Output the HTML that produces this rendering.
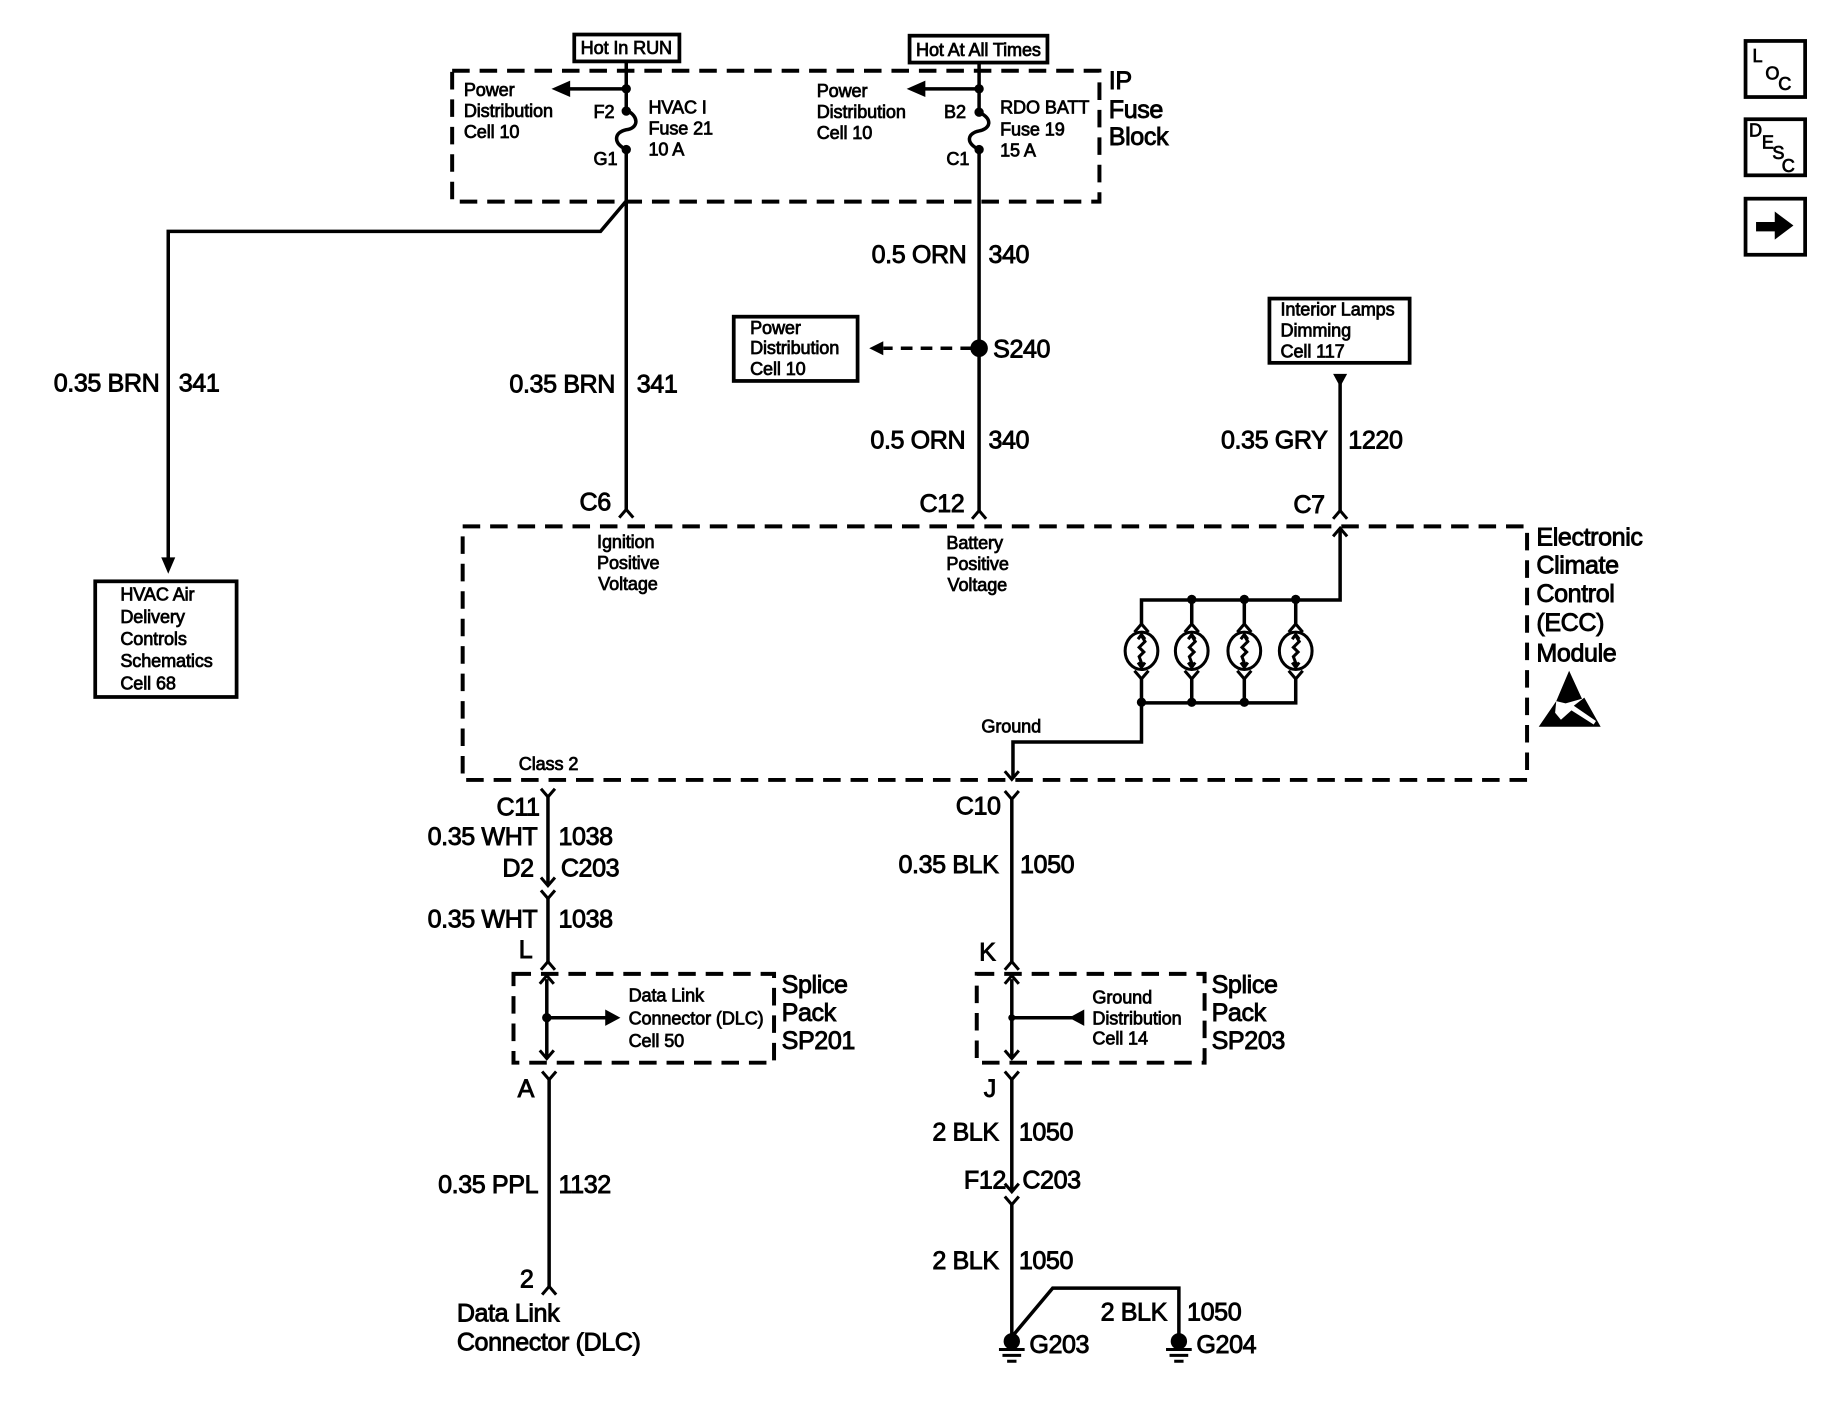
<!DOCTYPE html>
<html><head><meta charset="utf-8">
<style>
html,body{margin:0;padding:0;background:#fff;width:1832px;height:1408px;overflow:hidden}
svg{display:block}
text{font-family:"Liberation Sans",sans-serif;fill:#000;stroke:#000}
.b{font-size:21.5px;stroke-width:.75px;letter-spacing:-.35px}
.s{font-size:15.5px;stroke-width:.65px;letter-spacing:-.1px}
.l{fill:none;stroke:#000;stroke-width:3;stroke-linejoin:miter}
.t{fill:none;stroke:#000;stroke-width:2.6}
.d{fill:none;stroke:#000;stroke-width:3.4;stroke-dasharray:15 8.5}
.x{fill:none;stroke:#000;stroke-width:3.2}
.f{fill:#000;stroke:none}
</style></head><body>
<svg width="1832" height="1408" viewBox="0 0 1568 1205" xmlns="http://www.w3.org/2000/svg">
<rect width="1568" height="1205" fill="#fff"/>

<!-- boxes -->
<rect class="x" x="491.500" y="29.500" width="90" height="23"/>
<rect class="x" x="778.500" y="30.500" width="118" height="23"/>
<rect class="d" x="387" y="60.500" width="554" height="112"/>
<rect class="x" x="81.500" y="497.500" width="121" height="99"/>
<rect class="x" x="628" y="271" width="106" height="55"/>
<rect class="x" x="1086.500" y="255.500" width="120" height="55"/>
<rect class="d" x="396" y="450.500" width="911" height="217"/>
<rect class="d" x="439.500" y="833.500" width="223" height="76"/>
<rect class="d" x="836" y="833.500" width="195" height="76"/>

<!-- top wires -->
<path class="l" d="M536 53V94M536 128V437"/>
<path class="l" d="M536 94C548 100 546 110 536 111C526 113 524 122 536 128"/>
<path class="l" d="M838 54V96M838 128V437"/>
<path class="l" d="M838 96C850 102 848 110 838 112C828 114 826 122 838 128"/>
<path class="l" d="M536 76H486M838 76H790"/>
<path class="f" d="M472 76L488 69V83ZM776 76L792 69V83Z"/>
<g class="f"><circle cx="536" cy="76" r="4"/><circle cx="536" cy="95" r="4"/><circle cx="536" cy="128" r="4"/><circle cx="838" cy="76" r="4"/><circle cx="838" cy="96" r="4"/><circle cx="838" cy="128" r="4"/></g>

<!-- branch to HVAC -->
<path class="l" d="M536 172L514 198H144V480"/>
<path class="f" d="M144 491L138 477H150Z"/>

<!-- S240 -->
<circle class="f" cx="838" cy="298" r="7.500"/>
<path class="l" d="M832 298H756" stroke-dasharray="10 7"/>
<path class="f" d="M744 298L756 292V304Z"/>

<!-- Interior lamps wire -->
<path class="f" d="M1147 331L1141 320H1153Z"/>
<path class="l" d="M1147 328V438"/>

<!-- chevrons at ECC top -->
<path class="t" d="M530 443L536 436L542 443M832 444L838 437L844 444M1141 444L1147 437L1153 444M1141 459L1147 452L1153 459"/>

<!-- ECC internals -->
<path class="l" d="M1147 453V513.500H977V534M1020 513V534M1065 513V534M1109 513V534"/>
<path class="t" d="M971 541L977 534L983 541M1014 541L1020 534L1026 541M1059 541L1065 534L1071 541M1103 541L1109 534L1115 541"/>
<g class="f"><circle cx="1020" cy="513" r="4"/><circle cx="1065" cy="513" r="4"/><circle cx="1109" cy="513" r="4"/>
<circle cx="977" cy="601" r="4"/><circle cx="1020" cy="601" r="4"/><circle cx="1065" cy="601" r="4"/></g>
<g class="t">
<ellipse cx="977" cy="557" rx="14" ry="16"/><ellipse cx="1020" cy="557" rx="14" ry="16"/><ellipse cx="1065" cy="557" rx="14" ry="16"/><ellipse cx="1109" cy="557" rx="14" ry="16"/>
<path d="M977 544L980 549L975 554L979 558L975 562L978 570M974 547L977 543L980 547M974 567L977 571L980 567"/>
<path d="M1020 544L1023 549L1018 554L1022 558L1018 562L1021 570M1017 547L1020 543L1023 547M1017 567L1020 571L1023 567"/>
<path d="M1065 544L1068 549L1063 554L1067 558L1063 562L1066 570M1062 547L1065 543L1068 547M1062 567L1065 571L1068 567"/>
<path d="M1109 544L1112 549L1107 554L1111 558L1107 562L1110 570M1106 547L1109 543L1112 547M1106 567L1109 571L1112 567"/>
</g>
<path class="t" d="M971 574L977 581L983 574M1014 574L1020 581L1026 574M1059 574L1065 581L1071 574M1103 574L1109 581L1115 574"/>
<path class="l" d="M977 581V635H867V666M1020 581V601M1065 581V601M1109 581V601.500H977"/>
<path class="t" d="M860 660L866 667L872 660"/>

<!-- ESD symbol -->
<path class="f" d="M1343 574L1354 598L1340 602L1332 600ZM1332 600L1317 622H1370L1356 597L1347 604L1366 617L1364 620L1345 608L1336 616L1331 610Z"/>

<!-- lower left wire -->
<path class="t" d="M463 675L469 682L475 675"/>
<path class="l" d="M469 682V757M469 769V824"/>
<path class="t" d="M463 751L469 758L475 751M463 762L469 769L475 762M463 830L469 823L475 830"/>
<path class="l" d="M468 838V906"/>
<path class="t" d="M462 842L468 835L474 842M462 899L468 906L474 899"/>
<circle class="f" cx="468" cy="871" r="4"/>
<path class="l" d="M468 871H520"/>
<path class="f" d="M531 871L518 864V878Z"/>
<path class="t" d="M464 917L470 924L476 917"/>
<path class="l" d="M470 924V1101"/>
<path class="t" d="M464 1108L470 1101L476 1108"/>

<!-- lower right wire -->
<path class="t" d="M860 677L866 684L872 677"/>
<path class="l" d="M866 684V824"/>
<path class="t" d="M860 830L866 823L872 830"/>
<path class="l" d="M866 838V906"/>
<path class="t" d="M860 842L866 835L872 842M860 899L866 906L872 899"/>
<circle class="f" cx="866" cy="871" r="3"/>
<path class="l" d="M866 871H918"/>
<path class="f" d="M915 871L928 864V878Z"/>
<path class="t" d="M860 917L866 924L872 917"/>
<path class="l" d="M866 924V1018M866 1031V1150"/>
<path class="t" d="M860 1013L866 1020L872 1013M860 1024L866 1031L872 1024"/>
<path class="l" d="M867 1143L901 1102.500H1009V1150"/>
<!-- grounds -->
<g class="f"><circle cx="866" cy="1148" r="7"/><circle cx="1009" cy="1148" r="7"/></g>
<path class="t" d="M855 1155H877M858 1160H874M862 1165H870M998 1155H1020M1001 1160H1017M1005 1165H1013"/>

<!-- icons -->
<rect class="x" x="1494" y="35" width="51" height="48"/>
<rect class="x" x="1494" y="102" width="51" height="48"/>
<rect class="x" x="1494" y="170" width="51" height="48"/>
<path class="f" d="M1503 190H1519V181L1535 193L1519 205V198H1503Z"/>

<!-- big text -->
<g class="b">
<text x="949" y="76">IP</text><text x="949" y="101">Fuse</text><text x="949" y="124">Block</text>
<text x="46" y="335">0.35 BRN</text><text x="153" y="335">341</text>
<text x="436" y="336">0.35 BRN</text><text x="545" y="336">341</text>
<text x="746" y="225">0.5 ORN</text><text x="846" y="225">340</text>
<text x="850" y="306">S240</text>
<text x="745" y="384">0.5 ORN</text><text x="846" y="384">340</text>
<text x="1045" y="384">0.35 GRY</text><text x="1154" y="384">1220</text>
<text x="496" y="437">C6</text><text x="787" y="438">C12</text><text x="1107" y="439">C7</text>
<text x="1315" y="467">Electronic</text><text x="1315" y="491">Climate</text><text x="1315" y="515">Control</text><text x="1315" y="540">(ECC)</text><text x="1315" y="566">Module</text>
<text x="425" y="698">C11</text><text x="366" y="723">0.35 WHT</text><text x="478" y="723">1038</text>
<text x="430" y="750">D2</text><text x="480" y="750">C203</text>
<text x="366" y="794">0.35 WHT</text><text x="478" y="794">1038</text>
<text x="444" y="820">L</text>
<text x="669" y="850">Splice</text><text x="669" y="874">Pack</text><text x="669" y="898">SP201</text>
<text x="443" y="939">A</text>
<text x="375" y="1021">0.35 PPL</text><text x="478" y="1021">1132</text>
<text x="445" y="1102">2</text>
<text x="391" y="1131">Data Link</text><text x="391" y="1156">Connector (DLC)</text>
<text x="818" y="697">C10</text>
<text x="769" y="747">0.35 BLK</text><text x="873" y="747">1050</text>
<text x="838" y="822">K</text>
<text x="1037" y="850">Splice</text><text x="1037" y="874">Pack</text><text x="1037" y="898">SP203</text>
<text x="842" y="939">J</text>
<text x="798" y="976">2 BLK</text><text x="872" y="976">1050</text>
<text x="825" y="1017">F12</text><text x="875" y="1017">C203</text>
<text x="798" y="1086">2 BLK</text><text x="872" y="1086">1050</text>
<text x="942" y="1130">2 BLK</text><text x="1016" y="1130">1050</text>
<text x="881" y="1158">G203</text><text x="1024" y="1158">G204</text>
</g>

<!-- small text -->
<g class="s">
<text x="497" y="46">Hot In RUN</text>
<text x="784" y="48">Hot At All Times</text>
<text x="397" y="82">Power</text><text x="397" y="100">Distribution</text><text x="397" y="118">Cell 10</text>
<text x="508" y="101">F2</text><text x="508" y="141">G1</text>
<text x="555" y="97">HVAC I</text><text x="555" y="115">Fuse 21</text><text x="555" y="133">10 A</text>
<text x="699" y="83">Power</text><text x="699" y="101">Distribution</text><text x="699" y="119">Cell 10</text>
<text x="808" y="101">B2</text><text x="810" y="141">C1</text>
<text x="856" y="97">RDO BATT</text><text x="856" y="116">Fuse 19</text><text x="856" y="134">15 A</text>
<text x="642" y="286">Power</text><text x="642" y="303">Distribution</text><text x="642" y="321">Cell 10</text>
<text x="1096" y="270">Interior Lamps</text><text x="1096" y="288">Dimming</text><text x="1096" y="306">Cell 117</text>
<text x="103" y="514">HVAC Air</text><text x="103" y="533">Delivery</text><text x="103" y="552">Controls</text><text x="103" y="571">Schematics</text><text x="103" y="590">Cell 68</text>
<text x="511" y="469">Ignition</text><text x="511" y="487">Positive</text><text x="512" y="505">Voltage</text>
<text x="810" y="470">Battery</text><text x="810" y="488">Positive</text><text x="811" y="506">Voltage</text>
<text x="840" y="627">Ground</text><text x="444" y="659">Class 2</text>
<text x="538" y="857">Data Link</text><text x="538" y="877">Connector (DLC)</text><text x="538" y="896">Cell 50</text>
<text x="935" y="859">Ground</text><text x="935" y="877">Distribution</text><text x="935" y="894">Cell 14</text>
<text x="1500" y="53">L</text><text x="1511" y="68">O</text><text x="1522" y="77">C</text>
<text x="1497" y="117">D</text><text x="1508" y="127">E</text><text x="1517" y="136">S</text><text x="1525" y="147">C</text>
</g>
</svg>
</body></html>
